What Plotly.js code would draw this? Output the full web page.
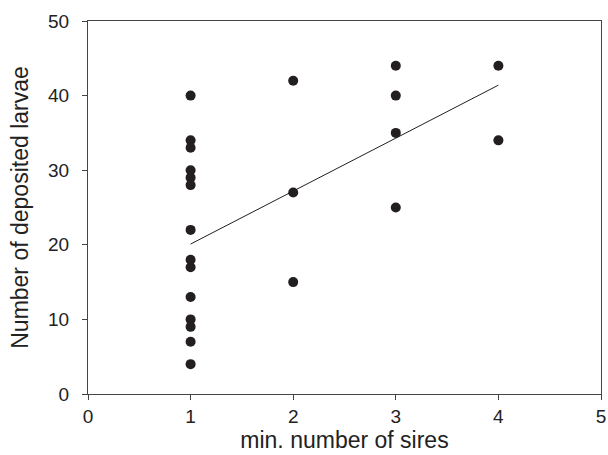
<!DOCTYPE html>
<html>
<head>
<meta charset="utf-8">
<script src="https://cdn.plot.ly/plotly-3.0.1.min.js"></script>
<style>html,body{margin:0;padding:0;background:#fff;}#chart{width:608px;height:455px;}</style>
</head>
<body>
<div id="chart"></div>
<script>
// Observed data points
var siresX = [1,1,1,1,1,1,1,1,1,1,1,1,1,1, 2,2,2, 3,3,3,3, 4,4];
var larvaeY = [40,34,33,30,29,28,22,18,17,13,10,9,7,4, 42,27,15, 44,40,35,25, 44,34];
// Regression line as drawn in the figure
var fitX = [1, 4];
var fitY = [20.1, 41.4];
var xTicks = [0,1,2,3,4,5];
var yTicks = [0,10,20,30,40,50];

var traces = [
  {x: fitX, y: fitY, mode: 'lines', type: 'scatter',
   line: {color: '#231f20', width: 1}, hoverinfo: 'skip'},
  {x: siresX, y: larvaeY, mode: 'markers', type: 'scatter',
   marker: {color: '#231f20', size: 10}}
];

var axisCommon = {
  showgrid: false, zeroline: false, showline: true, linecolor: '#444', linewidth: 1,
  mirror: true, ticks: 'outside', ticklen: 5, tickcolor: '#444', tickwidth: 1,
  tickfont: {family: 'Liberation Sans, Arial, sans-serif', size: 19, color: '#222'}
};

var layout = {
  width: 608, height: 455,
  margin: {l: 88, r: 7, t: 21, b: 61},
  showlegend: false,
  paper_bgcolor: '#fff', plot_bgcolor: '#fff',
  xaxis: Object.assign({}, axisCommon, {
    range: [0, 5], tickvals: xTicks, ticktext: xTicks.map(String),
    title: {text: 'min. number of sires', standoff: 6,
      font: {family: 'Liberation Sans, Arial, sans-serif', size: 23, color: '#222'}}
  }),
  yaxis: Object.assign({}, axisCommon, {
    range: [0, 50], tickvals: yTicks, ticktext: yTicks.map(String),
    ticklabelstandoff: 9,
    title: {text: 'Number of deposited larvae', standoff: 13,
      font: {family: 'Liberation Sans, Arial, sans-serif', size: 23, color: '#222'}}
  })
};

Plotly.newPlot('chart', traces, layout, {staticPlot: true, displayModeBar: false});
</script>
</body>
</html>
